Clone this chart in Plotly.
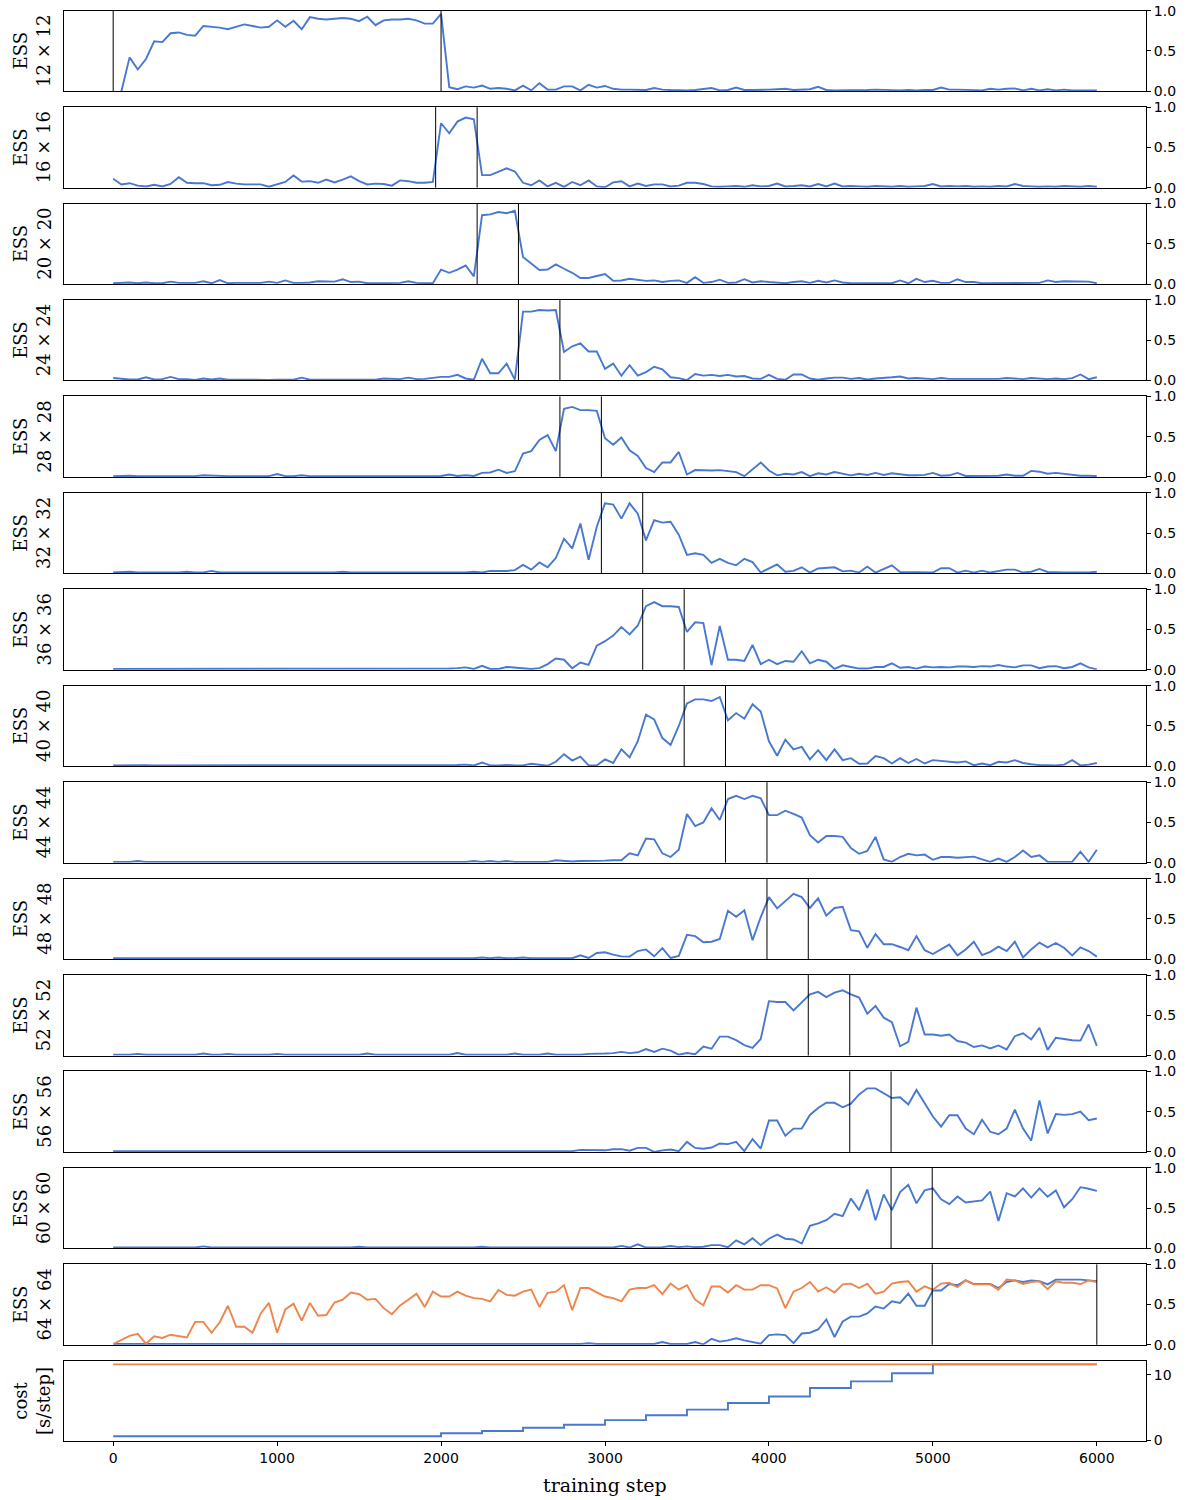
import plotly.graph_objects as go

# ---------------- data ----------------
steps = list(range(0, 6001, 50))          # evaluation steps (121)
steps_12 = steps[1:]                       # 12x12 series starts at step 50

ess_12 = [0.0, 0.42, 0.27, 0.40, 0.62, 0.61, 0.72, 0.73, 0.70, 0.69,
          0.81, 0.80, 0.79, 0.77, 0.80, 0.83, 0.81, 0.79, 0.80, 0.88,
          0.80, 0.875, 0.77, 0.92, 0.90, 0.89, 0.90, 0.91, 0.90, 0.87,
          0.925, 0.82, 0.88, 0.89, 0.89, 0.90, 0.88, 0.84, 0.84, 0.96,
          0.05, 0.025, 0.06, 0.045, 0.07, 0.03, 0.04, 0.03, 0.01, 0.07,
          0.01, 0.10, 0.02, 0.02, 0.06, 0.06, 0.01, 0.08, 0.045, 0.065,
          0.03, 0.02, 0.02, 0.02, 0.015, 0.04, 0.02, 0.015, 0.01, 0.01,
          0.015, 0.025, 0.04, 0.01, 0.015, 0.045, 0.015, 0.015, 0.015, 0.02,
          0.025, 0.03, 0.015, 0.02, 0.025, 0.055, 0.015, 0.01, 0.01, 0.015,
          0.015, 0.015, 0.02, 0.015, 0.015, 0.01, 0.015, 0.01, 0.015, 0.015,
          0.045, 0.02, 0.02, 0.015, 0.01, 0.01, 0.03, 0.02, 0.03, 0.035,
          0.01, 0.03, 0.01, 0.025, 0.01, 0.02, 0.01, 0.01, 0.01, 0.01]

ess_16 = [0.11, 0.04, 0.055, 0.025, 0.015, 0.035, 0.015, 0.045, 0.13, 0.06,
          0.055, 0.055, 0.03, 0.035, 0.07, 0.05, 0.04, 0.04, 0.04, 0.012,
          0.045, 0.07, 0.15, 0.075, 0.08, 0.06, 0.10, 0.065, 0.10, 0.14,
          0.08, 0.04, 0.05, 0.045, 0.025, 0.09, 0.08, 0.06, 0.06, 0.07,
          0.80, 0.675, 0.82, 0.87, 0.85, 0.155, 0.155, 0.195, 0.24, 0.20,
          0.06, 0.03, 0.09, 0.015, 0.06, 0.01, 0.07, 0.03, 0.09, 0.015,
          0.005, 0.065, 0.08, 0.015, 0.05, 0.02, 0.04, 0.04, 0.015, 0.025,
          0.06, 0.06, 0.045, 0.015, 0.01, 0.015, 0.02, 0.01, 0.03, 0.015,
          0.02, 0.05, 0.015, 0.02, 0.03, 0.015, 0.045, 0.015, 0.05, 0.015,
          0.02, 0.015, 0.01, 0.02, 0.015, 0.01, 0.02, 0.01, 0.015, 0.02,
          0.045, 0.015, 0.02, 0.015, 0.02, 0.01, 0.015, 0.01, 0.02, 0.015,
          0.045, 0.02, 0.015, 0.01, 0.015, 0.01, 0.02, 0.015, 0.01, 0.02,
          0.01]

ess_20 = [0.01, 0.015, 0.02, 0.01, 0.02, 0.01, 0.01, 0.03, 0.015, 0.015,
          0.015, 0.035, 0.01, 0.05, 0.01, 0.015, 0.015, 0.015, 0.015, 0.03,
          0.015, 0.045, 0.015, 0.015, 0.02, 0.035, 0.03, 0.03, 0.06, 0.025,
          0.03, 0.01, 0.01, 0.01, 0.01, 0.015, 0.035, 0.015, 0.01, 0.01,
          0.18, 0.14, 0.18, 0.23, 0.095, 0.855, 0.865, 0.895, 0.88, 0.91,
          0.335, 0.26, 0.175, 0.18, 0.245, 0.19, 0.14, 0.075, 0.075, 0.10,
          0.125, 0.04, 0.045, 0.065, 0.05, 0.04, 0.045, 0.025, 0.04, 0.045,
          0.015, 0.085, 0.015, 0.025, 0.055, 0.015, 0.02, 0.06, 0.02, 0.035,
          0.025, 0.02, 0.01, 0.025, 0.035, 0.015, 0.04, 0.02, 0.045, 0.02,
          0.01, 0.01, 0.01, 0.01, 0.01, 0.01, 0.045, 0.01, 0.065, 0.025,
          0.04, 0.015, 0.015, 0.06, 0.025, 0.025, 0.01, 0.01, 0.015, 0.015,
          0.01, 0.015, 0.015, 0.015, 0.045, 0.025, 0.035, 0.035, 0.03, 0.03,
          0.01]

ess_24 = [0.03, 0.017, 0.012, 0.012, 0.04, 0.012, 0.017, 0.045, 0.017, 0.017,
          0.008, 0.025, 0.012, 0.025, 0.01, 0.01, 0.008, 0.01, 0.01, 0.008,
          0.01, 0.01, 0.01, 0.035, 0.01, 0.01, 0.01, 0.008, 0.01, 0.01,
          0.01, 0.008, 0.01, 0.025, 0.017, 0.017, 0.035, 0.017, 0.02, 0.035,
          0.045, 0.045, 0.07, 0.025, 0.01, 0.27, 0.09, 0.09, 0.21, 0.01,
          0.855, 0.855, 0.875, 0.87, 0.875, 0.355, 0.425, 0.46, 0.36, 0.36,
          0.145, 0.21, 0.06, 0.19, 0.06, 0.105, 0.17, 0.14, 0.04, 0.03,
          0.005, 0.08, 0.06, 0.07, 0.055, 0.07, 0.05, 0.055, 0.025, 0.02,
          0.07, 0.02, 0.01, 0.075, 0.075, 0.025, 0.01, 0.025, 0.035, 0.035,
          0.02, 0.03, 0.012, 0.025, 0.03, 0.04, 0.05, 0.025, 0.03, 0.025,
          0.017, 0.03, 0.02, 0.02, 0.017, 0.017, 0.02, 0.02, 0.02, 0.03,
          0.025, 0.017, 0.03, 0.02, 0.017, 0.025, 0.017, 0.03, 0.075, 0.017,
          0.04]

ess_28 = [0.01, 0.015, 0.015, 0.01, 0.01, 0.01, 0.01, 0.01, 0.01, 0.01,
          0.01, 0.02, 0.015, 0.01, 0.01, 0.01, 0.01, 0.01, 0.015, 0.01,
          0.035, 0.01, 0.01, 0.02, 0.01, 0.01, 0.015, 0.015, 0.015, 0.01,
          0.015, 0.01, 0.01, 0.01, 0.015, 0.01, 0.012, 0.01, 0.01, 0.01,
          0.012, 0.03, 0.012, 0.02, 0.012, 0.05, 0.055, 0.09, 0.05, 0.07,
          0.29, 0.32, 0.46, 0.52, 0.32, 0.845, 0.87, 0.83, 0.83, 0.82,
          0.48, 0.40, 0.49, 0.33, 0.26, 0.11, 0.06, 0.18, 0.18, 0.31,
          0.03, 0.085, 0.08, 0.08, 0.085, 0.075, 0.06, 0.01, 0.10, 0.18,
          0.08, 0.02, 0.04, 0.03, 0.06, 0.01, 0.045, 0.03, 0.06, 0.04,
          0.02, 0.04, 0.025, 0.05, 0.025, 0.045, 0.03, 0.02, 0.02, 0.025,
          0.05, 0.015, 0.02, 0.05, 0.012, 0.015, 0.015, 0.015, 0.015, 0.03,
          0.015, 0.015, 0.075, 0.065, 0.04, 0.05, 0.04, 0.025, 0.015, 0.015,
          0.01]

ess_32 = [0.01, 0.015, 0.02, 0.01, 0.01, 0.01, 0.01, 0.01, 0.01, 0.02,
          0.01, 0.01, 0.03, 0.01, 0.01, 0.015, 0.01, 0.01, 0.01, 0.015,
          0.015, 0.01, 0.01, 0.01, 0.01, 0.01, 0.01, 0.01, 0.02, 0.01,
          0.01, 0.01, 0.01, 0.01, 0.01, 0.015, 0.01, 0.015, 0.01, 0.015,
          0.015, 0.01, 0.015, 0.01, 0.02, 0.01, 0.03, 0.03, 0.03, 0.04,
          0.105, 0.046, 0.135, 0.076, 0.19, 0.43, 0.31, 0.62, 0.17, 0.58,
          0.87, 0.855, 0.68, 0.87, 0.74, 0.41, 0.66, 0.63, 0.64, 0.48,
          0.23, 0.25, 0.23, 0.13, 0.18, 0.13, 0.10, 0.18, 0.14, 0.01,
          0.055, 0.11, 0.02, 0.03, 0.075, 0.01, 0.06, 0.067, 0.075, 0.025,
          0.034, 0.01, 0.084, 0.01, 0.055, 0.10, 0.017, 0.017, 0.017, 0.01,
          0.01, 0.063, 0.063, 0.01, 0.034, 0.01, 0.034, 0.01, 0.03, 0.046,
          0.046, 0.01, 0.02, 0.055, 0.017, 0.01, 0.01, 0.01, 0.01, 0.01,
          0.02]

ess_36 = [0.01, 0.01, 0.01, 0.015, 0.01, 0.01, 0.01, 0.01, 0.01, 0.01,
          0.01, 0.01, 0.01, 0.01, 0.01, 0.01, 0.01, 0.01, 0.015, 0.015,
          0.01, 0.01, 0.01, 0.01, 0.01, 0.01, 0.01, 0.01, 0.01, 0.015,
          0.01, 0.01, 0.01, 0.01, 0.015, 0.01, 0.01, 0.01, 0.01, 0.01,
          0.015, 0.015, 0.02, 0.03, 0.01, 0.05, 0.01, 0.01, 0.035, 0.025,
          0.015, 0.01, 0.02, 0.07, 0.14, 0.125, 0.02, 0.09, 0.06, 0.30,
          0.355, 0.425, 0.53, 0.44, 0.55, 0.79, 0.84, 0.79, 0.79, 0.78,
          0.47, 0.59, 0.58, 0.06, 0.545, 0.125, 0.125, 0.11, 0.31, 0.07,
          0.125, 0.07, 0.11, 0.10, 0.23, 0.08, 0.125, 0.10, 0.01, 0.055,
          0.035, 0.015, 0.015, 0.035, 0.035, 0.08, 0.025, 0.035, 0.015, 0.04,
          0.03, 0.035, 0.03, 0.04, 0.04, 0.035, 0.045, 0.04, 0.06, 0.04,
          0.03, 0.055, 0.055, 0.02, 0.04, 0.045, 0.02, 0.035, 0.08, 0.03,
          0.005]

ess_40 = [0.01, 0.012, 0.01, 0.01, 0.012, 0.01, 0.01, 0.01, 0.012, 0.01,
          0.01, 0.01, 0.01, 0.012, 0.01, 0.01, 0.01, 0.01, 0.01, 0.012,
          0.01, 0.01, 0.01, 0.01, 0.01, 0.01, 0.01, 0.01, 0.01, 0.012,
          0.01, 0.01, 0.01, 0.01, 0.01, 0.012, 0.01, 0.01, 0.01, 0.01,
          0.012, 0.01, 0.015, 0.02, 0.01, 0.045, 0.01, 0.01, 0.015, 0.01,
          0.01, 0.03, 0.015, 0.005, 0.055, 0.15, 0.07, 0.12, 0.01, 0.01,
          0.085, 0.04, 0.21, 0.11, 0.31, 0.64, 0.58, 0.35, 0.265, 0.50,
          0.78, 0.83, 0.83, 0.81, 0.86, 0.57, 0.66, 0.59, 0.77, 0.68,
          0.31, 0.13, 0.33, 0.21, 0.24, 0.085, 0.20, 0.075, 0.21, 0.075,
          0.10, 0.03, 0.034, 0.125, 0.10, 0.034, 0.10, 0.04, 0.09, 0.034,
          0.075, 0.063, 0.05, 0.046, 0.06, 0.013, 0.034, 0.013, 0.055, 0.046,
          0.075, 0.04, 0.025, 0.013, 0.013, 0.01, 0.02, 0.075, 0.01, 0.02,
          0.04]

ess_44 = [0.01, 0.01, 0.01, 0.02, 0.01, 0.01, 0.01, 0.01, 0.01, 0.01,
          0.01, 0.015, 0.01, 0.01, 0.01, 0.015, 0.01, 0.01, 0.01, 0.01,
          0.01, 0.01, 0.01, 0.01, 0.01, 0.01, 0.01, 0.01, 0.01, 0.015,
          0.01, 0.01, 0.01, 0.01, 0.01, 0.01, 0.01, 0.01, 0.015, 0.01,
          0.01, 0.01, 0.01, 0.01, 0.02, 0.01, 0.02, 0.01, 0.02, 0.01,
          0.01, 0.01, 0.01, 0.01, 0.03, 0.025, 0.015, 0.02, 0.02, 0.025,
          0.025, 0.03, 0.03, 0.115, 0.09, 0.30, 0.29, 0.115, 0.07, 0.16,
          0.605, 0.455, 0.50, 0.675, 0.53, 0.79, 0.83, 0.79, 0.83, 0.80,
          0.59, 0.59, 0.645, 0.605, 0.56, 0.34, 0.25, 0.33, 0.33, 0.32,
          0.18, 0.11, 0.145, 0.32, 0.04, 0.01, 0.07, 0.11, 0.09, 0.10,
          0.035, 0.07, 0.07, 0.06, 0.07, 0.075, 0.04, 0.01, 0.05, 0.01,
          0.07, 0.15, 0.07, 0.09, 0.01, 0.01, 0.01, 0.01, 0.135, 0.01,
          0.16]

ess_48 = [0.01, 0.01, 0.01, 0.01, 0.01, 0.01, 0.01, 0.012, 0.01, 0.01,
          0.01, 0.01, 0.01, 0.01, 0.01, 0.01, 0.01, 0.01, 0.01, 0.01,
          0.01, 0.012, 0.01, 0.01, 0.01, 0.01, 0.01, 0.01, 0.01, 0.01,
          0.01, 0.012, 0.01, 0.01, 0.01, 0.01, 0.01, 0.01, 0.012, 0.01,
          0.01, 0.01, 0.01, 0.01, 0.01, 0.02, 0.01, 0.02, 0.01, 0.01,
          0.02, 0.01, 0.01, 0.01, 0.01, 0.015, 0.01, 0.046, 0.013, 0.075,
          0.085, 0.055, 0.034, 0.03, 0.10, 0.12, 0.034, 0.135, 0.013, 0.04,
          0.30, 0.285, 0.21, 0.215, 0.25, 0.60, 0.525, 0.605, 0.235, 0.52,
          0.77, 0.63, 0.72, 0.81, 0.77, 0.635, 0.755, 0.54, 0.635, 0.65,
          0.36, 0.345, 0.14, 0.31, 0.185, 0.185, 0.15, 0.11, 0.285, 0.11,
          0.063, 0.12, 0.18, 0.046, 0.12, 0.215, 0.05, 0.09, 0.155, 0.10,
          0.215, 0.02, 0.12, 0.205, 0.145, 0.20, 0.14, 0.046, 0.145, 0.10,
          0.03]

ess_52 = [0.01, 0.01, 0.01, 0.02, 0.01, 0.01, 0.01, 0.01, 0.01, 0.01,
          0.01, 0.025, 0.01, 0.01, 0.02, 0.01, 0.01, 0.01, 0.01, 0.01,
          0.02, 0.01, 0.01, 0.01, 0.01, 0.01, 0.01, 0.01, 0.01, 0.01,
          0.01, 0.025, 0.01, 0.01, 0.01, 0.01, 0.01, 0.01, 0.01, 0.01,
          0.01, 0.01, 0.03, 0.01, 0.01, 0.01, 0.01, 0.01, 0.01, 0.025,
          0.01, 0.01, 0.01, 0.025, 0.01, 0.01, 0.01, 0.01, 0.02, 0.02,
          0.025, 0.03, 0.045, 0.03, 0.04, 0.08, 0.045, 0.085, 0.06, 0.01,
          0.03, 0.015, 0.11, 0.085, 0.235, 0.235, 0.19, 0.13, 0.095, 0.205,
          0.675, 0.665, 0.665, 0.56, 0.655, 0.76, 0.79, 0.725, 0.78, 0.81,
          0.76, 0.72, 0.52, 0.615, 0.47, 0.415, 0.115, 0.17, 0.595, 0.26,
          0.26, 0.245, 0.26, 0.18, 0.16, 0.105, 0.125, 0.087, 0.125, 0.075,
          0.24, 0.275, 0.20, 0.345, 0.07, 0.22, 0.205, 0.19, 0.185, 0.385,
          0.12]

ess_56 = [0.01, 0.01, 0.01, 0.012, 0.01, 0.01, 0.01, 0.01, 0.01, 0.01,
          0.01, 0.01, 0.01, 0.01, 0.01, 0.012, 0.01, 0.01, 0.01, 0.01,
          0.01, 0.01, 0.015, 0.01, 0.01, 0.01, 0.01, 0.01, 0.01, 0.01,
          0.01, 0.01, 0.01, 0.01, 0.01, 0.01, 0.01, 0.01, 0.012, 0.01,
          0.01, 0.01, 0.012, 0.01, 0.01, 0.01, 0.01, 0.01, 0.01, 0.01,
          0.01, 0.01, 0.01, 0.012, 0.01, 0.01, 0.01, 0.025, 0.025, 0.02,
          0.02, 0.034, 0.034, 0.015, 0.05, 0.05, 0.0, 0.02, 0.03, 0.01,
          0.125, 0.05, 0.04, 0.055, 0.105, 0.097, 0.125, 0.01, 0.16, 0.042,
          0.39, 0.39, 0.20, 0.29, 0.29, 0.46, 0.545, 0.61, 0.61, 0.555,
          0.60, 0.715, 0.79, 0.79, 0.735, 0.67, 0.68, 0.59, 0.77, 0.61,
          0.44, 0.315, 0.455, 0.455, 0.29, 0.22, 0.40, 0.25, 0.22, 0.29,
          0.525, 0.29, 0.14, 0.64, 0.23, 0.47, 0.46, 0.47, 0.50, 0.395,
          0.415]

ess_60 = [0.01, 0.01, 0.01, 0.01, 0.01, 0.01, 0.01, 0.01, 0.01, 0.01,
          0.01, 0.025, 0.01, 0.01, 0.01, 0.01, 0.01, 0.01, 0.015, 0.01,
          0.01, 0.01, 0.01, 0.01, 0.01, 0.01, 0.01, 0.01, 0.015, 0.01,
          0.02, 0.01, 0.01, 0.01, 0.01, 0.01, 0.01, 0.01, 0.01, 0.01,
          0.01, 0.01, 0.01, 0.01, 0.01, 0.02, 0.01, 0.01, 0.01, 0.01,
          0.01, 0.01, 0.015, 0.01, 0.01, 0.01, 0.01, 0.01, 0.01, 0.01,
          0.01, 0.01, 0.03, 0.01, 0.05, 0.01, 0.01, 0.015, 0.03, 0.015,
          0.025, 0.015, 0.02, 0.04, 0.04, 0.015, 0.10, 0.05, 0.125, 0.04,
          0.12, 0.17, 0.12, 0.11, 0.06, 0.28, 0.31, 0.35, 0.43, 0.40,
          0.62, 0.475, 0.73, 0.35, 0.67, 0.475, 0.70, 0.79, 0.56, 0.72,
          0.745, 0.61, 0.55, 0.645, 0.57, 0.58, 0.595, 0.705, 0.34, 0.685,
          0.645, 0.745, 0.63, 0.745, 0.64, 0.72, 0.51, 0.61, 0.76, 0.74,
          0.715]

ess_64 = [0.01, 0.01, 0.01, 0.01, 0.01, 0.01, 0.01, 0.012, 0.01, 0.01,
          0.01, 0.01, 0.01, 0.01, 0.01, 0.01, 0.01, 0.01, 0.01, 0.01,
          0.01, 0.01, 0.01, 0.01, 0.01, 0.01, 0.01, 0.01, 0.01, 0.01,
          0.01, 0.01, 0.01, 0.01, 0.01, 0.01, 0.01, 0.01, 0.01, 0.01,
          0.01, 0.01, 0.01, 0.01, 0.01, 0.012, 0.01, 0.01, 0.01, 0.01,
          0.01, 0.01, 0.01, 0.01, 0.01, 0.01, 0.01, 0.01, 0.02, 0.01,
          0.01, 0.01, 0.01, 0.01, 0.01, 0.01, 0.01, 0.034, 0.01, 0.01,
          0.01, 0.034, 0.005, 0.075, 0.04, 0.055, 0.08, 0.055, 0.034, 0.013,
          0.12, 0.13, 0.12, 0.02, 0.14, 0.15, 0.19, 0.315, 0.097, 0.29,
          0.35, 0.35, 0.39, 0.475, 0.45, 0.54, 0.52, 0.635, 0.485, 0.485,
          0.675, 0.675, 0.755, 0.74, 0.80, 0.755, 0.755, 0.755, 0.705, 0.78,
          0.80, 0.78, 0.80, 0.79, 0.75, 0.81, 0.81, 0.81, 0.81, 0.80,
          0.79]

ess_64_direct = [0.01, 0.055, 0.11, 0.135, 0.013, 0.105, 0.085, 0.125, 0.105, 0.09,
                 0.285, 0.285, 0.15, 0.28, 0.485, 0.225, 0.225, 0.15, 0.39, 0.52,
                 0.15, 0.44, 0.51, 0.30, 0.52, 0.36, 0.37, 0.525, 0.56, 0.65,
                 0.63, 0.56, 0.57, 0.455, 0.38, 0.49, 0.56, 0.635, 0.47, 0.66,
                 0.60, 0.60, 0.66, 0.61, 0.58, 0.57, 0.54, 0.68, 0.62, 0.61,
                 0.66, 0.685, 0.47, 0.645, 0.66, 0.74, 0.43, 0.705, 0.705, 0.65,
                 0.60, 0.58, 0.54, 0.685, 0.705, 0.705, 0.74, 0.63, 0.76, 0.685,
                 0.74, 0.56, 0.49, 0.725, 0.725, 0.65, 0.74, 0.685, 0.685, 0.74,
                 0.74, 0.70, 0.455, 0.66, 0.705, 0.78, 0.66, 0.715, 0.65, 0.75,
                 0.76, 0.705, 0.76, 0.635, 0.66, 0.76, 0.78, 0.79, 0.66, 0.725,
                 0.685, 0.76, 0.77, 0.715, 0.80, 0.75, 0.75, 0.75, 0.685, 0.81,
                 0.80, 0.755, 0.78, 0.79, 0.69, 0.79, 0.77, 0.77, 0.755, 0.80,
                 0.78]

ess_labels = ["12 × 12", "16 × 16", "20 × 20", "24 × 24", "28 × 28", "32 × 32", "36 × 36",
              "40 × 40", "44 × 44", "48 × 48", "52 × 52", "56 × 56", "60 × 60", "64 × 64"]
ess_series = [ess_12, ess_16, ess_20, ess_24, ess_28, ess_32, ess_36,
              ess_40, ess_44, ess_48, ess_52, ess_56, ess_60, ess_64]

# training stage of each resolution (vertical markers)
stage_start = [0, 1967, 2220, 2472, 2725, 2978, 3230, 3483, 3735, 3988, 4240, 4493, 4745, 4996]
stage_end = [2000, 2220, 2472, 2725, 2978, 3230, 3483, 3735, 3988, 4240, 4493, 4745, 4996, 6000]

# cost per training step
cost_steps = [0, 2000, 2250, 2500, 2750, 3000, 3250, 3500, 3750, 4000, 4250, 4500, 4750, 5000, 6000]
cost_progressive = [0.65, 1.1, 1.45, 1.95, 2.4, 3.1, 3.85, 4.7, 5.7, 6.7, 8.0, 9.0, 10.25, 11.6, 11.6]
cost_direct_steps = [0, 6000]
cost_direct = [11.6, 11.6]

# ---------------- style ----------------
BLUE = "#4878d0"
ORANGE = "#ee854a"
W, H = 1189, 1500
ML, MR, MT, MB = 64, 43, 10, 58
PH = H - MT - MB
PANEL_H = 80.5
PANEL_STEP = 96.43
N = 15

fig = go.Figure()

def ax_name(k, kind):
    return kind if k == 0 else f"{kind}{k + 1}"

def ax_ref(k, kind):
    return kind[0] if k == 0 else f"{kind[0]}{k + 1}"

TICKFONT = dict(family="DejaVu Sans", size=14, color="black")
LABELFONT = dict(family="DejaVu Serif", size=18, color="black")
layout = {}
for k in range(N):
    top = 0.7 + PANEL_STEP * k
    bot = top + PANEL_H
    dom = [1 - bot / PH, 1 - top / PH]
    is_last = (k == N - 1)
    layout[ax_name(k, "xaxis")] = dict(
        domain=[0, 1], anchor=ax_ref(k, "y"), range=[-300, 6300], automargin=False,
        showline=True, mirror=True, linecolor="black", linewidth=1,
        showgrid=False, zeroline=False,
        ticks="outside" if is_last else "", ticklen=4, tickwidth=1, tickcolor="black",
        showticklabels=is_last, tickvals=[0, 1000, 2000, 3000, 4000, 5000, 6000],
        tickfont=TICKFONT,
    )
    if k < N - 1:
        yax = dict(range=[0, 1], tickvals=[0, 0.5, 1], ticktext=["0.0", "0.5", "1.0"])
    else:
        yax = dict(range=[-0.11, 12.15], tickvals=[0, 10], ticktext=["0", "10"])
    yax.update(
        domain=dom, anchor=ax_ref(k, "x"), side="right", automargin=False,
        showline=True, mirror=True, linecolor="black", linewidth=1,
        showgrid=False, zeroline=False, ticks="outside", ticklen=4, tickwidth=1,
        tickcolor="black", tickfont=TICKFONT,
    )
    layout[ax_name(k, "yaxis")] = yax

shapes = []
annotations = []
for k, (vals, lab) in enumerate(zip(ess_series, ess_labels)):
    xs = steps_12 if k == 0 else steps
    fig.add_trace(go.Scatter(x=xs, y=vals, mode="lines", line=dict(color=BLUE, width=1.9),
                             xaxis=ax_ref(k, "x"), yaxis=ax_ref(k, "y"), showlegend=False))
    for xv in (stage_start[k], stage_end[k]):
        shapes.append(dict(type="line", xref=ax_ref(k, "x"), yref=f"{ax_ref(k, 'y')} domain",
                           x0=xv, x1=xv, y0=0, y1=1, line=dict(color="black", width=1)))
    dom = layout[ax_name(k, "yaxis")]["domain"]
    annotations.append(dict(text=f"ESS<br>{lab}", xref="paper", yref="paper",
                            x=-0.0296, y=(dom[0] + dom[1]) / 2, xanchor="center", yanchor="middle",
                            textangle=-90, showarrow=False, font=LABELFONT))

fig.add_trace(go.Scatter(x=steps, y=ess_64_direct, mode="lines", line=dict(color=ORANGE, width=1.9),
                         xaxis="x14", yaxis="y14", showlegend=False))

fig.add_trace(go.Scatter(x=cost_steps, y=cost_progressive, mode="lines", line_shape="hv",
                         line=dict(color=BLUE, width=1.9), xaxis="x15", yaxis="y15", showlegend=False))
fig.add_trace(go.Scatter(x=cost_direct_steps, y=cost_direct, mode="lines",
                         line=dict(color=ORANGE, width=1.9), xaxis="x15", yaxis="y15", showlegend=False))

dom = layout["yaxis15"]["domain"]
annotations.append(dict(text="cost<br>[s/step]", xref="paper", yref="paper",
                        x=-0.0296, y=(dom[0] + dom[1]) / 2, xanchor="center", yanchor="middle",
                        textangle=-90, showarrow=False, font=LABELFONT))
annotations.append(dict(text="training step", xref="paper", yref="paper",
                        x=0.5, y=-43 / PH, xanchor="center", yanchor="middle", showarrow=False,
                        font=dict(family="DejaVu Serif", size=19, color="black")))

fig.update_layout(width=W, height=H, margin=dict(l=ML, r=MR, t=MT, b=MB, autoexpand=False),
                  plot_bgcolor="white", paper_bgcolor="white", hovermode=False,
                  shapes=shapes, annotations=annotations, **layout)

for k, s in enumerate(ess_series):
    assert len(s) == (120 if k == 0 else 121), (k, len(s))
assert len(ess_64_direct) == 121

fig.write_html("out.html", config={"staticPlot": True, "displayModeBar": False},
               post_script="document.body.style.margin='0px';")
